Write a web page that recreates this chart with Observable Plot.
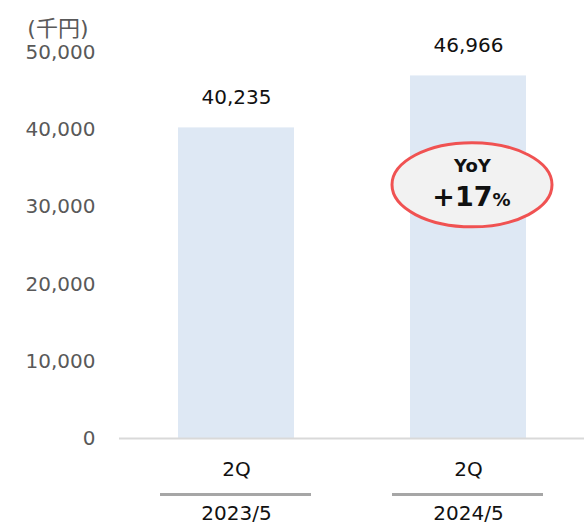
<!DOCTYPE html>
<html>
<head>
<meta charset="utf-8">
<script src="https://cdn.jsdelivr.net/npm/d3@7"></script>
<script src="https://cdn.jsdelivr.net/npm/@observablehq/plot@0.6"></script>
<style>
  html, body { margin: 0; padding: 0; background: #fff; }
  svg { font-family: "DejaVu Sans", Verdana, "Noto Sans CJK JP", sans-serif; }
</style>
</head>
<body>
<div id="chart"></div>
<script>
const periods = ["2023/5", "2024/5"];
const quarters = ["2Q", "2Q"];
const values = [40235, 46966];
const yTicks = [0, 10000, 20000, 30000, 40000, 50000];
const unitLabel = "(千円)";
// annotation position (data units) for the YoY bubble
const annoY = 32800;
const annoHalfHeight = 5450;

const data = periods.map((p, i) => ({period: p, quarter: quarters[i], value: values[i]}));
const yoy = Math.round((values[1] / values[0] - 1) * 100);
const anno = [{period: periods[1], y: annoY, y1: annoY - annoHalfHeight, y2: annoY + annoHalfHeight}];
const fmt = d3.format(",");
const font = "DejaVu Sans, Verdana, Noto Sans CJK JP, sans-serif";

const chart = Plot.plot({
  width: 584,
  height: 526,
  marginTop: 52,
  marginBottom: 88,
  marginLeft: 119,
  marginRight: 0,
  style: {fontFamily: font, fontSize: "20px", background: "white", overflow: "visible"},
  x: {domain: periods, paddingInner: 0.5, paddingOuter: 0.25, axis: null},
  y: {domain: [0, 50000], ticks: yTicks, tickFormat: fmt},
  marks: [
    Plot.axisY(yTicks, {tickSize: 0, tickPadding: 24, tickFormat: fmt, fill: "#595959", fontSize: 20, label: null}),
    Plot.barY(data, {x: "period", y: "value", fill: "#dee8f4"}),
    Plot.ruleY([0], {stroke: "#d9d9d9", strokeWidth: 2}),
    Plot.text(data, {x: "period", y: "value", text: d => fmt(d.value), dy: -30, fill: "#111", fontSize: 20}),
    Plot.text(data, {x: "period", y: 0, text: "quarter", dy: 31, fill: "#111", fontSize: 20}),
    Plot.tickY(data, {x: "period", y: 0, dy: 56, insetLeft: -18, insetRight: -17, stroke: "#a6a6a6", strokeWidth: 3}),
    Plot.text(data, {x: "period", y: 0, text: "period", dy: 75, fill: "#111", fontSize: 20}),
    Plot.text([unitLabel], {frameAnchor: "top-left", text: d => d, dx: -31, dy: -32, textAnchor: "end", fill: "#595959", fontSize: 22}),
    Plot.rect(anno, {x: "period", y1: "y1", y2: "y2", insetLeft: -18, insetRight: -26, rx: 80, ry: 42, fill: "#f2f2f2", stroke: "#f05252", strokeWidth: 3}),
    Plot.text(anno, {x: "period", y: "y", text: () => "YoY", dx: 4, dy: -19, fontWeight: "bold", fontSize: 18, fill: "#111"}),
    Plot.text(anno, {x: "period", y: "y", text: () => "+" + yoy, dx: 24, dy: 12, textAnchor: "end", fontWeight: "bold", fontSize: 27, fill: "#111"}),
    Plot.text(anno, {x: "period", y: "y", text: () => "%", dx: 24, dy: 15, textAnchor: "start", fontWeight: "bold", fontSize: 18, fill: "#111"})
  ]
});
document.getElementById("chart").appendChild(chart);
</script>
</body>
</html>
